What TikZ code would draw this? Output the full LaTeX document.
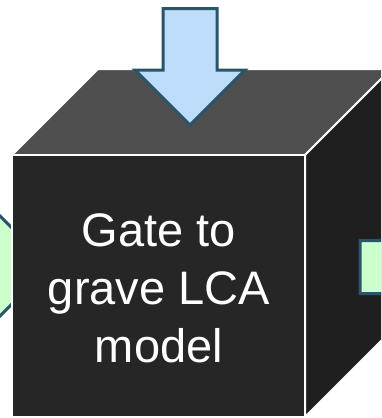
\documentclass[tikz,border=0pt]{standalone}
\usepackage{fontspec}
\setmainfont{Liberation Sans}
\definecolor{topface}{HTML}{4F4F4F}
\definecolor{frontface}{HTML}{262626}
\definecolor{sideface}{HTML}{1F1F1F}
\definecolor{flowline}{HTML}{2A5568}
\definecolor{inflow}{HTML}{BDDDFA}
\definecolor{outflow}{HTML}{CCFFCC}
\begin{document}
\begin{tikzpicture}[x=1pt,y=-1pt,
  face/.style={draw=white,line width=2pt,line join=miter},
  flowarrow/.style={draw=flowline,line width=3pt,line join=miter}]
\useasboundingbox (0,0) rectangle (381,418);
\clip (0,0) rectangle (381,418);

% cube corners (front face and depth offset)
\coordinate (ftl) at (12,155);
\coordinate (ftr) at (305,155);
\coordinate (fbr) at (305,417);
\coordinate (fbl) at (12,417);
\coordinate (btl) at (98,69);
\coordinate (btr) at (391,69);
\coordinate (bbr) at (391,331);

% incoming flow on the left, partly behind the cube
\draw[flowarrow,fill=outflow]
  (-60,236) -- (-20,236) -- (-20,196) -- (50,266) -- (-20,336) -- (-20,296) -- (-60,296) -- cycle;

% the cube
\draw[face,fill=topface] (ftl) -- (btl) -- (btr) -- (ftr) -- cycle;
\draw[face,fill=sideface] (ftr) -- (btr) -- (bbr) -- (fbr) -- cycle;
\draw[face,fill=frontface] (ftl) -- (ftr) -- (fbr) -- (fbl) -- cycle;

% input from above
\draw[flowarrow,fill=inflow]
  (163,8.5) -- (217,8.5) -- (217,70) -- (245,70) -- (190,125) -- (135,70) -- (163,70) -- cycle;

% output to the right
\draw[flowarrow,fill=outflow]
  (360,240.5) -- (400,240.5) -- (400,220) -- (447,267) -- (400,314) -- (400,293.5) -- (360,293.5) -- cycle;

% label on the front face
\node[anchor=base,inner sep=0pt,text=white] (label) at (159,246.7)
  {\fontsize{47}{58}\selectfont\begin{tabular}[t]{@{}c@{}}Gate to\\grave LCA\\model\end{tabular}};
\end{tikzpicture}
\end{document}
